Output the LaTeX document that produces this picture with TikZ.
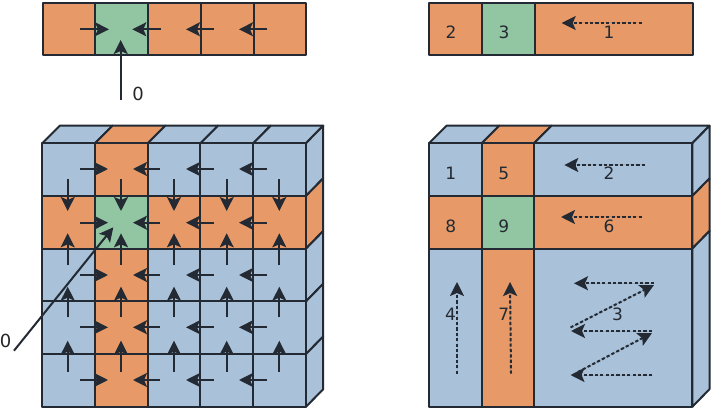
\documentclass[tikz,border=0pt]{standalone}
\usepackage{fontspec}
\setmainfont{DejaVu Sans}
\usetikzlibrary{arrows.meta}
\definecolor{cblue}{HTML}{A9C1D9}
\definecolor{corange}{HTML}{E79A68}
\definecolor{cgreen}{HTML}{92C5A2}
\definecolor{cline}{HTML}{232A33}
\tikzset{
  cell/.style={draw=cline,line width=2pt,inner sep=0pt,outer sep=0pt,line join=round},
  face/.style={draw=cline,line width=2pt,line join=round},
  arr/.style={draw=cline,fill=cline,line width=2pt,-{Stealth[length=14pt,width=14pt,inset=3pt]}},
  darr/.style={draw=cline,fill=cline,line width=2pt,dash pattern=on 3.2pt off 2.2pt,-{Stealth[length=14pt,width=14pt,inset=3pt]}},
  lbl/.style={text=cline,font=\fontsize{17pt}{19pt}\selectfont,inner sep=0pt},
  zero/.style={text=black!85,font=\fontsize{18pt}{20pt}\selectfont,inner sep=0pt}
}
\begin{document}
\begin{tikzpicture}[x=1pt,y=-1pt]
\useasboundingbox (0,0) rectangle (714,411);
\def\W{52.72}
% ---- top-left bar
\foreach \c in {1,...,5}{
  \pgfmathsetmacro\cx{42.7+(\c-0.5)*\W}
  \pgfmathsetmacro\mycol{\c==2 ? "cgreen" : "corange"}
  \node[cell,fill=\mycol,minimum width=\W pt,minimum height=52.4pt] (b\c) at (\cx,28.9) {};
}
% ---- top-right bar
\node[cell,fill=corange,minimum width=52.7pt,minimum height=52.4pt] (rb1) at (455.7,28.9) {};
\node[cell,fill=cgreen,minimum width=52.5pt,minimum height=52.4pt] (rb2) at (508.3,28.9) {};
\node[cell,fill=corange,minimum width=158pt,minimum height=52.4pt] (rb3) at (613.5,28.9) {};
\node[lbl] (t2) at (451,32) {2};
\node[lbl] (t3) at (504,32) {3};
\node[lbl] (t1) at (609,32) {1};
\coordinate (ra) at (641.7,23); \coordinate (rat) at (561.7,23);
\draw[darr] (ra) -- (rat);
% ---- left cube: top and side faces
\foreach \c in {1,...,5}{
  \pgfmathsetmacro\xa{42.3+(\c-1)*\W}
  \pgfmathsetmacro\xb{42.3+\c*\W}
  \pgfmathsetmacro\mycol{\c==2 ? "corange" : "cblue"}
  \draw[face,fill=\mycol] (\xa,143.3) -- ++(17.5,-17.6) -- (\xb+17.5,125.7) -- (\xb,143.3) -- cycle;
}
\foreach \r in {1,...,5}{
  \pgfmathsetmacro\ya{143.3+(\r-1)*\W}
  \pgfmathsetmacro\yb{143.3+\r*\W}
  \pgfmathsetmacro\mycol{\r==2 ? "corange" : "cblue"}
  \draw[face,fill=\mycol] (305.9,\ya) -- ++(17.2,-17.6) -- (323.1,\yb-17.6) -- (305.9,\yb) -- cycle;
}
% ---- left cube: front cells
\foreach \r in {1,...,5}{
  \foreach \c in {1,...,5}{
    \pgfmathsetmacro\cx{42.3+(\c-0.5)*\W}
    \pgfmathsetmacro\cy{143.3+(\r-0.5)*\W}
    \pgfmathsetmacro\mycol{(\r==2 && \c==2) ? "cgreen" : ((\r==2 || \c==2) ? "corange" : "cblue")}
    \node[cell,fill=\mycol,minimum width=\W pt,minimum height=\W pt] (g\r\c) at (\cx,\cy) {};
  }
}
% ---- right cube: faces
\draw[face,fill=cblue] (429,143.3) -- (446.5,125.7) -- (499.2,125.7) -- (481.7,143.3) -- cycle;
\draw[face,fill=corange] (481.7,143.3) -- (499.2,125.7) -- (551.5,125.7) -- (534,143.3) -- cycle;
\draw[face,fill=cblue] (534,143.3) -- (551.5,125.7) -- (709.5,125.7) -- (692.3,143.3) -- cycle;
\draw[face,fill=cblue] (692.3,143.3) -- (709.5,125.7) -- (709.5,178.4) -- (692.3,196) -- cycle;
\draw[face,fill=corange] (692.3,196) -- (709.5,178.4) -- (709.5,231) -- (692.3,248.6) -- cycle;
\draw[face,fill=cblue] (692.3,248.6) -- (709.5,231) -- (709.5,389.2) -- (692.3,406.8) -- cycle;
% ---- right cube: cells
\node[cell,fill=cblue,minimum width=52.7pt,minimum height=52.7pt] (r11) at (455.35,169.65) {};
\node[cell,fill=corange,minimum width=52.3pt,minimum height=52.7pt] (r12) at (507.85,169.65) {};
\node[cell,fill=cblue,minimum width=158.3pt,minimum height=52.7pt] (r13) at (613.15,169.65) {};
\node[cell,fill=corange,minimum width=52.7pt,minimum height=52.6pt] (r21) at (455.35,222.3) {};
\node[cell,fill=cgreen,minimum width=52.3pt,minimum height=52.6pt] (r22) at (507.85,222.3) {};
\node[cell,fill=corange,minimum width=158.3pt,minimum height=52.6pt] (r23) at (613.15,222.3) {};
\node[cell,fill=cblue,minimum width=52.7pt,minimum height=158.2pt] (r31) at (455.35,327.7) {};
\node[cell,fill=corange,minimum width=52.3pt,minimum height=158.2pt] (r32) at (507.85,327.7) {};
\node[cell,fill=cblue,minimum width=158.3pt,minimum height=158.2pt] (r33) at (613.15,327.7) {};
% ---- right cube: labels
\node[lbl] (l1) at (450.7,173) {1};
\node[lbl] (l5) at (503.7,173) {5};
\node[lbl] (l2) at (609,173) {2};
\node[lbl] (l8) at (450.7,226) {8};
\node[lbl] (l9) at (503.7,226) {9};
\node[lbl] (l6) at (609,226) {6};
\node[lbl] (l4) at (450.5,314) {4};
\node[lbl] (l7) at (503.7,314) {7};
\node[lbl] (l3) at (617.5,314) {3};
% ---- right cube: dashed arrows
\coordinate (a2s) at (645,165);   \coordinate (a2t) at (564.3,165);
\coordinate (a6s) at (641.7,217); \coordinate (a6t) at (561,217);
\coordinate (a4s) at (457,373.7); \coordinate (a4t) at (457,282);
\coordinate (a7s) at (511,373.7); \coordinate (a7t) at (510,282);
\coordinate (z1s) at (654,283.3); \coordinate (z1t) at (574,283.3);
\coordinate (z2s) at (570.5,327.5); \coordinate (z2t) at (654,285);
\coordinate (z3s) at (652,331);   \coordinate (z3t) at (571,331);
\coordinate (z4s) at (578,372);   \coordinate (z4t) at (652,333);
\coordinate (z5s) at (652,375);   \coordinate (z5t) at (570.5,375);
\foreach \s/\t in {a2s/a2t,a6s/a6t,a4s/a4t,a7s/a7t,z1s/z1t,z2s/z2t,z3s/z3t,z4s/z4t,z5s/z5t}
  \draw[darr] (\s) -- (\t);
% ---- left cube: horizontal arrows
\foreach \r/\yy in {1/169,2/222.7,3/275,4/327.3,5/380}{
  \foreach \c/\xs/\xt in {1/80/108,2/160/133,3/213.7/186,4/266.7/239}{
    \coordinate (hs\r\c) at (\xs,\yy);
    \coordinate (ht\r\c) at (\xt,\yy);
    \draw[arr] (hs\r\c) -- (ht\r\c);
  }
}
% ---- left cube: vertical arrows
\foreach \c/\xx in {1/67.7,2/121,3/174,4/226.7,5/279.3}{
  \foreach \r/\ys/\yt in {1/179.3/211,2/265/233.3,3/317/286.7,4/371.7/340.7}{
    \coordinate (vs\r\c) at (\xx,\ys);
    \coordinate (vt\r\c) at (\xx,\yt);
    \draw[arr] (vs\r\c) -- (vt\r\c);
  }
}
% ---- top-left bar arrows
\foreach \c/\xs/\xt in {1/80/109,2/160.7/132.3,3/214/186,4/267/239}{
  \coordinate (bs\c) at (\xs,29.3);
  \coordinate (bt\c) at (\xt,29.3);
  \draw[arr] (bs\c) -- (bt\c);
}
\coordinate (ups) at (120.7,100); \coordinate (upt) at (120.7,40);
\draw[arr] (ups) -- (upt);
\node[zero] (z0a) at (138,94) {0};
% ---- diagonal input
\coordinate (ds) at (14,350.7); \coordinate (dt) at (113.3,227.3);
\draw[arr] (ds) -- (dt);
\node[zero] (z0b) at (5.7,341) {0};
\end{tikzpicture}
\end{document}
